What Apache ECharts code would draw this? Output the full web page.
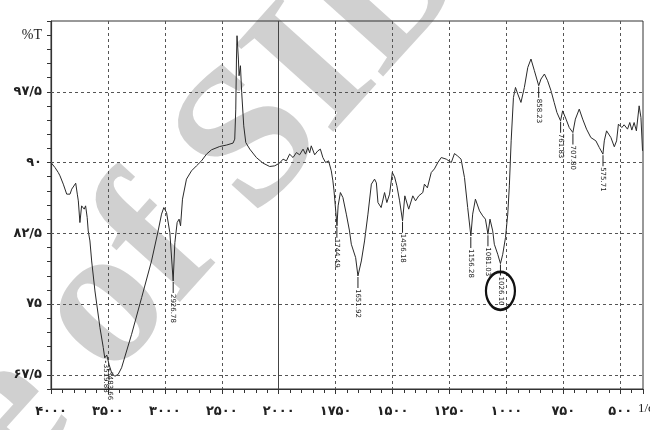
<!DOCTYPE html>
<html>
<head>
<meta charset="utf-8">
<script src="https://cdn.jsdelivr.net/npm/echarts@6/dist/echarts.min.js"></script>
<style>
    html, body { margin: 0; padding: 0; background: #fff; }
    #ftir { width: 650px; height: 430px; }
</style>
</head>
<body>
<div id="ftir"></div>
<script>
// wavenumber (1/cm) and transmittance (%T)
var wn = [4000, 3965, 3936, 3921, 3892, 3862, 3848, 3833, 3818, 3804, 3783, 3769, 3760, 3746, 3731, 3717, 3708, 3696, 3682, 3673,
    3658, 3643, 3614, 3570, 3541, 3528, 3520, 3510, 3490, 3467, 3440, 3410, 3380, 3292, 3204, 3117, 3059, 3029, 3009, 2985,
    2956, 2927, 2912, 2892, 2875, 2862, 2845, 2810, 2766, 2722, 2678, 2634, 2590, 2518, 2459, 2401, 2386, 2377, 2371, 2366,
    2354, 2348, 2336, 2325, 2307, 2289, 2254, 2196, 2138, 2079, 2035, 1996, 1981, 1966, 1952, 1937, 1922, 1908, 1893, 1882,
    1872, 1864, 1857, 1842, 1828, 1817, 1806, 1794, 1781, 1769, 1762, 1757, 1744, 1739, 1729, 1718, 1703, 1689, 1681, 1674,
    1662, 1652, 1637, 1623, 1608, 1593, 1579, 1571, 1564, 1550, 1535, 1525, 1513, 1501, 1491, 1481, 1469, 1456, 1446, 1429,
    1411, 1399, 1385, 1367, 1360, 1347, 1330, 1316, 1301, 1286, 1264, 1242, 1228, 1215, 1199, 1184, 1170, 1156, 1148, 1136,
    1118, 1104, 1092, 1081, 1072, 1060, 1053, 1038, 1026, 1016, 1004, 994, 987, 979, 969, 960, 950, 936, 921, 906,
    892, 877, 858, 848, 833, 819, 804, 790, 778, 762, 753, 738, 724, 708, 697, 680, 665, 648, 629, 607,
    592, 576, 570, 560, 541, 526, 516, 508, 493, 483, 468, 458, 449, 439, 429, 417, 409, 402];
var tr = [90.0, 89.47, 88.94, 88.59, 87.71, 86.65, 86.82, 86.65, 87.18, 87.0, 87.81, 86.65, 85.94, 83.64, 85.41, 85.59, 85.06, 85.41, 84.17, 82.75,
    81.69, 79.57, 76.39, 72.5, 70.4, 69.3, 69.1, 69.6, 68.6, 67.7, 67.35, 67.55, 68.25, 71.8, 75.68, 79.57, 82.75, 84.53, 85.23, 84.7,
    82.57, 77.45, 81.51, 83.64, 84.0, 83.29, 86.12, 88.24, 89.12, 89.65, 90.18, 90.89, 91.35, 91.7, 91.85, 92.06, 92.48, 95.66, 100.97, 103.44,
    100.97, 99.2, 100.26, 97.43, 93.89, 92.12, 91.42, 90.53, 89.94, 89.58, 89.65, 89.94, 90.36, 90.18, 90.89, 90.53, 91.06, 90.82, 91.42, 90.89,
    91.59, 91.03, 91.77, 90.82, 91.24, 91.42, 90.53, 90.0, 90.18, 89.12, 88.06, 87.0, 83.3, 85.41, 86.82, 86.29, 84.53, 82.75, 81.34, 81.51,
    79.92, 77.98, 79.57, 81.69, 84.53, 87.71, 88.24, 87.85, 85.76, 85.23, 86.82, 85.76, 86.65, 88.94, 88.48, 87.53, 85.94, 83.82, 86.47, 85.06,
    86.47, 85.94, 86.47, 86.82, 87.71, 87.32, 88.94, 89.33, 90.0, 90.53, 90.36, 90.0, 90.95, 90.71, 90.36, 88.41, 85.23, 82.22, 84.53, 86.12,
    84.88, 84.35, 84.0, 82.4, 84.0, 82.75, 81.34, 80.28, 79.29, 80.28, 82.04, 84.53, 87.53, 92.3, 96.9, 97.96, 97.26, 96.37, 97.96, 100.08,
    100.97, 99.73, 98.14, 98.85, 99.38, 98.67, 97.61, 96.36, 95.3, 94.42, 95.48, 94.6, 93.71, 93.18, 94.6, 95.66, 94.6, 93.54, 92.65, 92.3,
    91.59, 90.89, 92.3, 93.36, 92.65, 91.67, 92.3, 94.07, 93.71, 94.0, 93.54, 94.24, 93.44, 94.24, 93.36, 96.01, 94.77, 91.24];

// tick labels
var xTickValues = [4000, 3500, 3000, 2500, 2000, 1750, 1500, 1250, 1000, 750, 500];
var xTickLabels = ['۴۰۰۰', '۳۵۰۰', '۳۰۰۰', '۲۵۰۰', '۲۰۰۰', '۱۷۵۰', '۱۵۰۰', '۱۲۵۰', '۱۰۰۰', '۷۵۰', '۵۰۰'];
var yTickValues = [67.5, 75, 82.5, 90, 97.5];
var yTickLabels = ['۶۷/۵', '۷۵', '۸۲/۵', '۹۰', '۹۷/۵'];

// labelled peaks
var peakWn = [3519.88, 3483.66, 2926.78, 1744.49, 1651.92, 1456.18, 1156.28, 1081.03, 1026.10, 858.23, 761.83, 707.80, 575.71];
var peakT = [69.1, 68.3, 77.45, 83.3, 77.98, 83.82, 82.22, 82.4, 79.29, 98.14, 94.42, 93.18, 90.89];
var peakText = ['3519.88', '3483.66', '2926.78', '1744.49', '1651.92', '1456.18', '1156.28', '1081.03', '1026.10', '858.23', '761.83', '707.80', '575.71'];

(function () {
    var myChart = echarts.init(document.getElementById('ftir'));

    // the instrument halves the scale below 2000 1/cm
    function toPos(w) {
        return w >= 2000 ? (4000 - w) / 500 : 4 + (2000 - w) / 250;
    }

    var points = wn.map(function (w, i) {
        return [toPos(w), tr[i]];
    });

    var dashed = { color: '#555', width: 1, type: [3, 3] };

    var gridLines = yTickValues.map(function (v) {
        return { yAxis: v, lineStyle: dashed };
    });
    gridLines.push({ xAxis: toPos(2000), lineStyle: { color: '#444', width: 1, type: 'solid' } });

    var peaks = peakWn.map(function (w, i) {
        // the two OH labels sit right at the floor of the chart
        var len = peakT[i] < 72 ? 2 : 11;
        return {
            coord: [toPos(w), peakT[i]],
            symbol: 'rect',
            symbolSize: [1, len],
            symbolOffset: [0, len / 2 + 1],
            itemStyle: { color: '#222' },
            label: {
                show: true,
                formatter: peakText[i],
                position: 'bottom',
                distance: 1,
                rotate: -90,
                align: 'left',
                verticalAlign: 'middle',
                fontSize: 7,
                fontFamily: 'DejaVu Sans',
                color: '#222'
            }
        };
    });
    // hand-drawn ring round the 1026 label
    peaks.push({
        coord: [toPos(1026.1), 76.4],
        symbol: 'circle',
        symbolSize: [29, 38],
        itemStyle: { color: 'rgba(0,0,0,0)', borderColor: '#111', borderWidth: 2.5 },
        label: { show: false }
    });

    var option = {
        backgroundColor: '#fff',
        animation: false,
        graphic: [
            {
                // scanned-page watermark
                type: 'text',
                silent: true,
                z: -10,
                x: 439,
                y: -63,
                rotation: 48 * Math.PI / 180,
                style: {
                    text: 'Archive of SID',
                    fontFamily: 'Liberation Serif',
                    fontWeight: 'bold',
                    fontSize: 200,
                    fill: 'rgba(150,150,150,0.45)',
                    align: 'right',
                    verticalAlign: 'middle'
                }
            },
            {
                type: 'text',
                silent: true,
                x: 638,
                y: 402,
                style: {
                    text: '1/cm',
                    fontFamily: 'Liberation Serif',
                    fontSize: 13,
                    fill: '#222'
                }
            }
        ],
        grid: {
            left: 51,
            right: 7,
            top: 21,
            bottom: 41,
            show: true,
            borderColor: '#333',
            borderWidth: 1
        },
        xAxis: [
            {
                type: 'value',
                min: 0,
                max: 10.4,
                interval: 1,
                axisLine: { show: true, lineStyle: { color: '#333', width: 1.2 } },
                axisTick: { show: true, length: 5, lineStyle: { color: '#333' } },
                axisLabel: {
                    margin: 16,
                    fontFamily: 'DejaVu Sans',
                    fontWeight: 'bold',
                    fontSize: 13,
                    color: '#222',
                    formatter: function (v) {
                        for (var i = 0; i < xTickValues.length; i++) {
                            if (Math.abs(toPos(xTickValues[i]) - v) < 1e-6) return xTickLabels[i];
                        }
                        return '';
                    }
                },
                splitLine: { show: true, showMinLine: false, showMaxLine: false, lineStyle: dashed }
            },
            {
                // minor ticks, 0.2 of a grid cell
                type: 'value',
                position: 'bottom',
                min: 0,
                max: 10.4,
                interval: 0.2,
                axisLine: { show: false },
                axisTick: { show: true, length: 4, lineStyle: { color: '#333' } },
                axisLabel: { show: false },
                splitLine: { show: false }
            }
        ],
        yAxis: {
            type: 'value',
            min: 66,
            max: 105,
            interval: 1.5,
            axisLine: { show: true, lineStyle: { color: '#333', width: 1.2 } },
            axisTick: { show: true, length: 4, lineStyle: { color: '#333' } },
            axisLabel: {
                margin: 9,
                fontFamily: 'DejaVu Sans',
                fontWeight: 'bold',
                fontSize: 13,
                color: '#222',
                formatter: function (v) {
                    if (Math.abs(v - 103.5) < 1e-6) return '{t|%T}';
                    for (var i = 0; i < yTickValues.length; i++) {
                        if (Math.abs(yTickValues[i] - v) < 1e-6) return yTickLabels[i];
                    }
                    return '';
                },
                rich: {
                    t: { fontFamily: 'Liberation Serif', fontSize: 14, fontWeight: 'normal', color: '#222' }
                }
            },
            splitLine: { show: false }
        },
        series: [
            {
                name: '%T',
                type: 'line',
                data: points,
                showSymbol: false,
                symbol: 'none',
                lineStyle: { color: '#2a2a2a', width: 1 },
                markLine: {
                    silent: true,
                    symbol: 'none',
                    label: { show: false },
                    data: gridLines
                },
                markPoint: {
                    silent: true,
                    data: peaks
                }
            }
        ]
    };

    myChart.setOption(option);
    window.addEventListener("resize", function () {
        myChart.resize();
    });
})();
</script>
</body>
</html>
